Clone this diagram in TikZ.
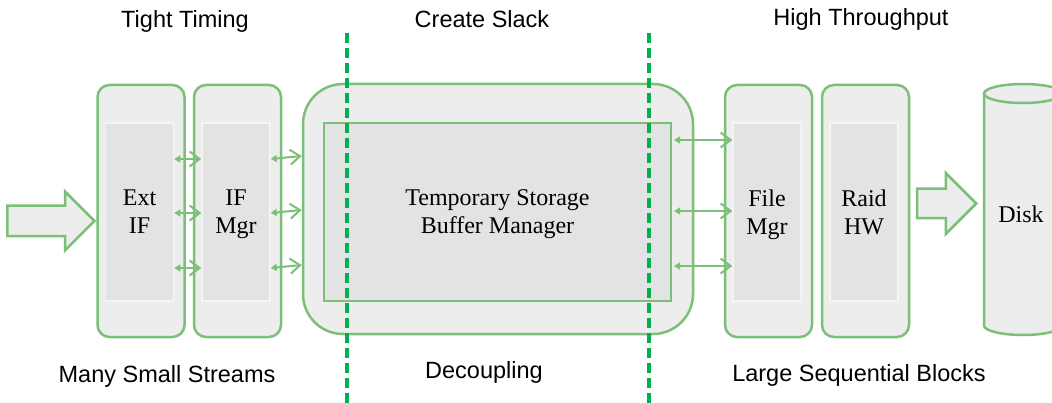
\documentclass[tikz,border=0pt]{standalone}
\usepackage{fontspec}
\setmainfont{Liberation Serif}
\setsansfont{Liberation Sans}
\usetikzlibrary{arrows.meta,shapes.arrows}
\definecolor{cBoxF}{HTML}{EDEDED}
\definecolor{cInF}{HTML}{E3E3E3}
\definecolor{cInL}{HTML}{F4F4F4}
\definecolor{cEdge}{HTML}{7BBF78}
\definecolor{cCut}{HTML}{00B050}
\newcommand{\boxfont}{\fontsize{24}{28}\selectfont}
\tikzset{
  unitouter/.style={draw=cEdge,fill=cBoxF,line width=2.5pt,rounded corners=12pt,
      minimum width=87pt,minimum height=252pt,inner sep=0pt},
  unitinner/.style={draw=cInL,fill=cInF,line width=1.5pt,minimum width=68pt,
      minimum height=178pt,inner sep=0pt,align=center,font=\boxfont,text depth=0pt},
  bufouter/.style={unitouter,rounded corners=40pt,minimum width=390pt,
      minimum height=250pt},
  bufinner/.style={draw=cEdge,fill=cInF,line width=2pt,minimum width=347pt,
      minimum height=178pt,inner sep=0pt,align=center,font=\boxfont,text depth=0pt},
  duplex/.style={{Triangle[length=6pt,width=7pt]}-{Straight Barb[length=10pt,width=15pt]},
      draw=cEdge,line width=2pt},
  feedarrow/.style={single arrow,draw=cEdge,fill=cBoxF,line width=2.5pt,
      inner xsep=0pt,inner ysep=14pt,single arrow head extend=14pt,
      single arrow tip angle=90,minimum height=87pt,anchor=tip},
  cutline/.style={draw=cCut,line width=3.5pt,dash pattern=on 10pt off 5pt},
  phase/.style={font=\sffamily\fontsize{23.5}{26}\selectfont,anchor=base,inner sep=0pt},
  disklabel/.style={font=\boxfont,inner sep=0pt,anchor=base},
}
% outer rounded frame plus grey inner panel holding the text
\newcommand{\stage}[3]{%
  \node[unitouter] (#2) at (#1,211) {};
  \node[unitinner] (#2in) at (#1-1.5,212) {#3};}

\begin{document}
\begin{tikzpicture}[x=1pt,y=-1pt]
  \useasboundingbox (0,0) rectangle (1052,403);

  \stage{141}{ext}{Ext\\IF}
  \stage{237.5}{ifm}{IF\\Mgr}
  \stage{768.5}{file}{File\\Mgr}
  \stage{865.5}{raid}{Raid\\HW}

  \node[bufouter] (buf) at (498,209) {};
  \node[bufinner] (bufin) at (497.5,212) {Temporary Storage\\Buffer Manager};

  % disk cylinder
  \draw[draw=cEdge,fill=cBoxF,line width=2.5pt]
    (984,93.5) -- (984,325.5) arc[start angle=180,end angle=360,x radius=39pt,y radius=9.5pt]
    -- (1062,93.5) arc[start angle=0,end angle=180,x radius=39pt,y radius=9.5pt] -- cycle;
  \draw[draw=cEdge,line width=2.5pt]
    (984,93.5) arc[start angle=180,end angle=360,x radius=39pt,y radius=9.5pt];
  \node[disklabel] (disk) at (1021,223) {Disk};

  \node[feedarrow] (feed) at ([yshift=-10pt]ext.west) {};
  \node[feedarrow,inner ysep=13.5pt,single arrow head extend=15.5pt,
    minimum height=59pt] (todisk) at (978,203.5) {};

  \foreach \dy in {53,-1,-56}{
    \draw[duplex] ([yshift=\dy pt]extin.east) -- ([yshift=\dy pt]ifmin.west);
    \draw[duplex] ([yshift=\dy pt]ifmin.east) -- ([yshift=\dy pt]buf.west);
  }
  \foreach \dy in {72,1,-54}
    \draw[duplex] ([xshift=2pt,yshift=\dy pt]bufin.east) -- ([yshift=\dy pt]filein.west);

  \draw[cutline] (347,33) -- (347,403);
  \draw[cutline] (649,33) -- (649,403);

  \node[phase] (tight) at (185,28) {Tight Timing};
  \node[phase] (slack) at (482,28) {Create Slack};
  \node[phase] (thru) at (861,26) {High Throughput};
  \node[phase] (streams) at (167,382) {Many Small Streams};
  \node[phase] (decouple) at (484,378) {Decoupling};
  \node[phase] (blocks) at (859,381) {Large Sequential Blocks};
\end{tikzpicture}
\end{document}
